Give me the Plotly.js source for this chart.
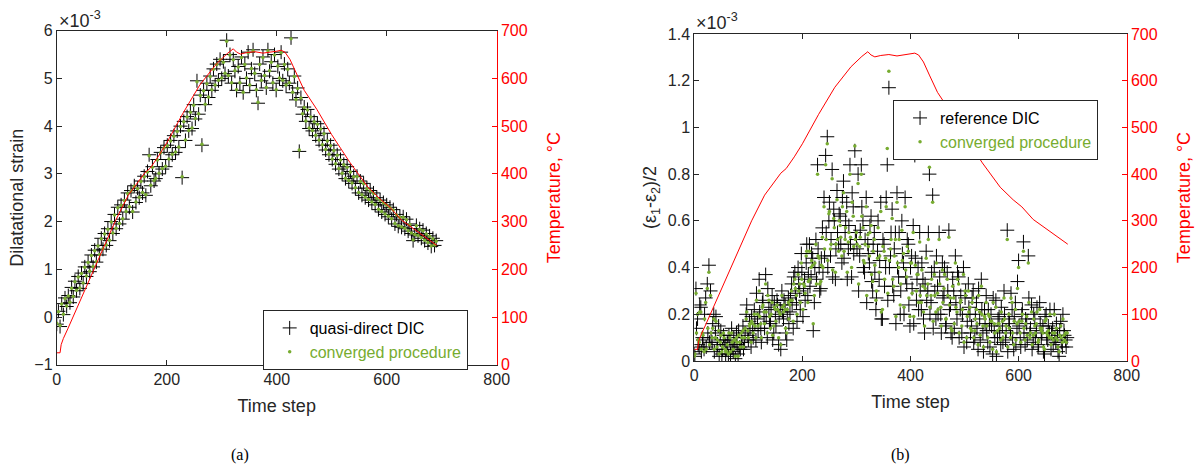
<!DOCTYPE html>
<html>
<head>
<meta charset="utf-8">
<script src="https://cdn.plot.ly/plotly-3.0.1.min.js"></script>
<style>html,body{margin:0;padding:0;background:#fff;}#chart{width:1200px;height:470px;}</style>
</head>
<body>
<div id="chart"></div>
<script>
// Time steps (sampled every 3 steps)
const timeStep = [0,3,6,9,12,15,18,21,24,27,30,33,36,39,42,45,48,51,54,57,60,63,66,69,72,75,78,81,84,87,90,93,96,99,102,105,108,111,114,117,120,123,126,129,132,135,138,141,144,147,150,153,156,159,162,165,168,171,174,177,180,183,186,189,192,195,198,201,204,207,210,213,216,219,222,225,228,231,234,237,240,243,246,249,252,255,258,261,264,267,270,273,276,279,282,285,288,291,294,297,300,303,306,309,312,315,318,321,324,327,330,333,336,339,342,345,348,351,354,357,360,363,366,369,372,375,378,381,384,387,390,393,396,399,402,405,408,411,414,417,420,423,426,429,432,435,438,441,444,447,450,453,456,459,462,465,468,471,474,477,480,483,486,489,492,495,498,501,504,507,510,513,516,519,522,525,528,531,534,537,540,543,546,549,552,555,558,561,564,567,570,573,576,579,582,585,588,591,594,597,600,603,606,609,612,615,618,621,624,627,630,633,636,639,642,645,648,651,654,657,660,663,666,669,672,675,678,681,684,687,690];
// Intermediate time steps used for panel (b)
const timeStepB = [1,4,7,10,13,16,19,22,25,28,31,34,37,40,43,46,49,52,55,58,61,64,67,70,73,76,79,82,85,88,91,94,97,100,103,106,109,112,115,118,121,124,127,130,133,136,139,142,145,148,151,154,157,160,163,166,169,172,175,178,181,184,187,190,193,196,199,202,205,208,211,214,217,220,223,226,229,232,235,238,241,244,247,250,253,256,259,262,265,268,271,274,277,280,283,286,289,292,295,298,301,304,307,310,313,316,319,322,325,328,331,334,337,340,343,346,349,352,355,358,361,364,367,370,373,376,379,382,385,388,391,394,397,400,403,406,409,412,415,418,421,424,427,430,433,436,439,442,445,448,451,454,457,460,463,466,469,472,475,478,481,484,487,490,493,496,499,502,505,508,511,514,517,520,523,526,529,532,535,538,541,544,547,550,553,556,559,562,565,568,571,574,577,580,583,586,589,592,595,598,601,604,607,610,613,616,619,622,625,628,631,634,637,640,643,646,649,652,655,658,661,664,667,670,673,676,679,682,685,688];

// (a) Dilatational strain, x10^-3
const quasiDirectDIC = [
-0.15,0.12,-0.2,0.28,0.05,0.4,0.22,0.45,0.3,0.62,
0.42,0.75,0.55,0.85,0.6,0.92,0.7,1.05,0.85,1.15,
0.95,1.3,1.05,1.4,1.15,1.5,1.3,1.65,1.42,1.75,
1.5,1.85,1.6,2.0,1.75,2.15,1.85,2.3,1.95,2.35,
2.05,2.45,2.2,2.6,2.3,2.65,2.2,2.75,2.4,2.7,
2.5,2.85,2.6,2.95,2.55,3.05,3.4,2.75,3.15,2.85,
2.9,3.3,3.0,3.45,3.1,3.55,3.15,3.6,3.3,3.7,
3.4,3.8,3.45,3.9,3.55,4.0,2.92,4.1,3.7,4.2,
3.9,4.3,3.95,4.45,4.15,4.95,4.25,4.65,3.6,4.75,
4.45,4.9,4.6,5.05,4.75,5.2,4.85,5.3,4.95,5.4,
5.0,5.35,5.1,5.8,5.05,5.5,4.9,5.4,5.15,4.75,
5.25,4.9,5.45,4.7,5.3,5.0,5.55,4.85,5.2,5.6,
5.1,4.75,4.48,5.3,4.95,5.45,5.05,4.8,5.6,5.15,
5.35,4.9,5.5,4.75,5.25,5.0,5.55,4.95,5.3,4.85,
5.2,4.9,5.85,4.7,5.05,4.55,4.8,3.47,4.6,4.25,
4.4,4.1,4.35,3.95,4.2,3.9,4.1,3.8,4.05,3.7,
3.95,3.6,3.85,3.5,3.7,3.4,3.6,3.3,3.5,3.2,
3.4,3.1,3.3,3.0,3.2,2.9,3.15,2.85,3.05,2.8,
2.95,2.7,2.95,2.6,2.85,2.55,2.8,2.5,2.7,2.45,
2.65,2.4,2.6,2.35,2.5,2.25,2.45,2.2,2.4,2.15,
2.35,2.1,2.3,2.05,2.25,1.95,2.15,1.9,2.1,1.88,
2.1,1.85,2.05,1.8,1.95,1.75,1.6,1.72,1.92,1.7,
1.85,1.65,1.82,1.6,1.75,1.55,1.7,1.48,1.65,1.5,
1.6];
const convergedA = [
-0.13,0.11,-0.18,0.27,0.06,0.39,0.23,0.44,0.31,0.6,
0.43,0.74,0.56,0.84,0.61,0.91,0.71,1.04,0.86,1.14,
0.96,1.29,1.06,1.39,1.16,1.49,1.31,1.64,1.43,1.74,
1.51,1.84,1.61,1.99,1.76,2.14,1.86,2.29,1.96,2.34,
2.06,2.44,2.21,2.59,2.31,2.64,2.21,2.74,2.41,2.69,
2.51,2.84,2.61,2.94,2.56,3.04,3.38,2.76,3.14,2.86,
2.91,3.29,3.01,3.44,3.11,3.54,3.16,3.59,3.31,3.69,
3.41,3.79,3.46,3.89,3.56,3.99,2.94,4.09,3.71,4.19,
3.91,4.29,3.96,4.44,4.16,4.93,4.26,4.64,3.62,4.74,
4.46,4.89,4.61,5.04,4.76,5.19,4.86,5.29,4.96,5.39,
5.01,5.34,5.11,5.78,5.06,5.49,4.91,5.39,5.16,4.76,
5.24,4.91,5.44,4.71,5.29,5.01,5.54,4.86,5.21,5.58,
5.11,4.76,4.5,5.29,4.96,5.44,5.06,4.81,5.58,5.16,
5.34,4.91,5.49,4.76,5.26,5.01,5.54,4.96,5.29,4.86,
5.19,4.91,5.83,4.71,5.04,4.56,4.79,3.5,4.59,4.26,
4.39,4.11,4.34,3.96,4.19,3.91,4.09,3.81,4.04,3.71,
3.94,3.61,3.84,3.51,3.69,3.41,3.59,3.31,3.49,3.21,
3.39,3.11,3.29,3.01,3.19,2.91,3.14,2.86,3.04,2.81,
2.94,2.71,2.94,2.61,2.84,2.56,2.79,2.51,2.69,2.46,
2.64,2.41,2.59,2.36,2.49,2.26,2.44,2.21,2.39,2.16,
2.34,2.11,2.29,2.06,2.24,1.96,2.14,1.91,2.09,1.89,
2.09,1.86,2.04,1.81,1.94,1.76,1.62,1.73,1.91,1.71,
1.84,1.66,1.81,1.61,1.74,1.56,1.69,1.49,1.64,1.51,
1.59];

// (b) (eps1-eps2)/2, x10^-3
const referenceDIC = [
0.03,0.31,0.18,0.06,0.23,0.1,0.05,0.27,0.33,0.41,
0.3,0.08,0.2,0.12,0.05,0.15,0.09,0.03,0.11,0.07,
0.05,0.02,0.09,0.14,0.04,0.07,0.12,0.03,0.06,0.1,
0.15,0.08,0.2,0.11,0.17,0.06,0.13,0.22,0.09,0.18,
0.35,0.14,0.25,0.19,0.37,0.1,0.23,0.16,0.28,0.12,
0.2,0.26,0.07,0.22,0.3,0.18,0.24,0.09,0.27,0.21,
0.33,0.14,0.38,0.25,0.4,0.3,0.46,0.19,0.35,0.42,
0.28,0.5,0.36,0.44,0.25,0.52,0.84,0.4,0.31,0.57,
0.7,0.88,0.96,0.6,0.45,0.82,0.65,0.35,0.73,0.5,
0.62,0.42,0.77,0.55,0.68,0.48,0.84,0.36,0.66,0.9,
0.52,0.8,0.45,0.84,0.6,0.38,0.7,0.5,0.42,0.62,
0.3,0.55,0.22,0.47,0.35,0.68,0.18,0.5,0.4,0.84,
1.17,0.45,0.65,0.28,0.55,0.72,0.36,0.2,0.6,0.42,
0.7,0.33,0.5,0.15,0.45,0.58,0.88,0.26,0.4,0.55,
0.22,0.35,0.12,0.47,0.3,0.8,0.25,0.71,0.4,0.18,
0.32,0.55,0.2,0.42,0.28,0.15,0.38,0.56,0.24,0.1,
0.3,0.45,0.18,0.36,0.22,0.12,0.4,0.27,0.08,0.33,
0.2,0.15,0.3,0.1,0.25,0.05,0.18,0.35,0.12,0.22,
0.28,0.08,0.16,0.2,0.03,0.13,0.26,0.1,0.19,0.07,
0.15,0.3,0.09,0.56,0.18,0.12,0.22,0.05,0.25,0.14,
0.43,0.1,0.2,0.51,0.07,0.16,0.45,0.12,0.24,0.08,
0.18,0.13,0.06,0.25,0.1,0.15,0.03,0.2,0.09,0.12,
0.05,0.14,0.22,0.08,0.11,0.02,0.17,0.06,0.13,0.09,
0.1];
const referenceDICB = [
0.02,0.14,0.07,0.24,0.04,0.09,0.2,0.06,0.12,0.08,
0.1,0.16,0.04,0.19,0.07,0.02,0.13,0.05,0.09,0.03,
0.08,0.11,0.03,0.06,0.1,0.01,0.07,0.13,0.05,0.08,
0.05,0.12,0.24,0.09,0.14,0.19,0.1,0.16,0.29,0.13,
0.21,0.08,0.26,0.14,0.19,0.31,0.17,0.22,0.09,0.25,
0.15,0.24,0.19,0.05,0.21,0.26,0.12,0.2,0.16,0.28,
0.24,0.36,0.29,0.17,0.33,0.22,0.38,0.31,0.26,0.5,
0.37,0.32,0.46,0.13,0.4,0.35,0.48,0.3,0.44,0.38,
0.45,0.55,0.4,0.68,0.52,0.36,0.6,0.48,0.55,0.63,
0.5,0.7,0.44,0.6,0.35,0.58,0.5,0.72,0.46,0.55,
0.48,0.3,0.56,0.66,0.4,0.52,0.25,0.46,0.58,0.34,
0.5,0.38,0.27,0.6,0.43,0.18,0.52,0.32,0.7,0.26,
0.4,0.55,0.32,0.48,0.16,0.4,0.55,0.3,0.46,0.2,
0.36,0.52,0.24,0.4,0.31,0.16,0.44,0.35,0.22,0.3,
0.42,0.18,0.33,0.26,0.55,0.2,0.38,0.14,0.3,0.45,
0.2,0.36,0.12,0.27,0.4,0.16,0.3,0.22,0.12,0.35,
0.14,0.25,0.38,0.1,0.28,0.2,0.06,0.3,0.17,0.23,
0.12,0.27,0.08,0.2,0.14,0.31,0.09,0.22,0.04,0.16,
0.13,0.22,0.06,0.15,0.27,0.1,0.02,0.18,0.12,0.23,
0.08,0.2,0.13,0.04,0.16,0.29,0.1,0.19,0.07,0.34,
0.15,0.06,0.22,0.12,0.18,0.09,0.27,0.14,0.05,0.2,
0.1,0.23,0.07,0.16,0.12,0.04,0.19,0.1,0.15,0.22,
0.12,0.07,0.1,0.16,0.04,0.13,0.08,0.2,0.11,0.06];
const convergedB = [
0.02,0.29,0.2,0.08,0.21,0.12,0.04,0.25,0.31,0.38,
0.28,0.1,0.18,0.1,0.06,0.13,0.08,0.04,0.12,0.05,
0.04,0.03,0.1,0.12,0.05,0.09,0.1,0.02,0.08,0.12,
0.13,0.1,0.18,0.13,0.15,0.08,0.16,0.2,0.1,0.2,
0.3,0.16,0.23,0.21,0.33,0.12,0.26,0.14,0.25,0.15,
0.22,0.24,0.1,0.2,0.28,0.21,0.22,0.12,0.25,0.24,
0.3,0.17,0.35,0.28,0.37,0.33,0.42,0.22,0.32,0.45,
0.25,0.47,0.4,0.41,0.28,0.5,0.8,0.44,0.34,0.53,
0.66,0.84,0.93,0.63,0.48,0.78,0.61,0.38,0.69,0.47,
0.58,0.45,0.72,0.52,0.64,0.51,0.8,0.4,0.62,0.92,
0.55,0.76,0.49,0.8,0.57,0.42,0.66,0.54,0.45,0.58,
0.34,0.52,0.26,0.44,0.38,0.64,0.22,0.47,0.44,0.91,
1.24,0.48,0.61,0.32,0.52,0.68,0.4,0.24,0.56,0.46,
0.66,0.36,0.47,0.19,0.42,0.55,0.9,0.3,0.37,0.51,
0.25,0.32,0.15,0.44,0.33,0.83,0.28,0.68,0.37,0.21,
0.29,0.52,0.23,0.39,0.31,0.18,0.35,0.53,0.27,0.13,
0.27,0.42,0.21,0.33,0.25,0.15,0.37,0.3,0.1,0.3,
0.23,0.13,0.27,0.13,0.22,0.07,0.21,0.32,0.15,0.19,
0.25,0.1,0.19,0.17,0.05,0.16,0.23,0.13,0.16,0.09,
0.17,0.27,0.12,0.52,0.2,0.1,0.25,0.07,0.22,0.16,
0.4,0.12,0.17,0.47,0.09,0.19,0.42,0.1,0.21,0.11,
0.15,0.16,0.08,0.22,0.13,0.12,0.05,0.18,0.11,0.1,
0.07,0.12,0.2,0.1,0.09,0.04,0.15,0.08,0.11,0.12,
0.12];
const convergedBB = [
0.03,0.12,0.09,0.21,0.05,0.11,0.18,0.05,0.14,0.07,
0.12,0.14,0.05,0.17,0.09,0.03,0.11,0.06,0.1,0.04,
0.07,0.12,0.04,0.08,0.09,0.02,0.08,0.11,0.06,0.1,
0.06,0.14,0.21,0.1,0.16,0.17,0.12,0.15,0.26,0.15,
0.19,0.1,0.24,0.16,0.21,0.28,0.19,0.2,0.11,0.23,
0.17,0.22,0.21,0.07,0.23,0.24,0.14,0.22,0.18,0.26,
0.26,0.33,0.31,0.2,0.3,0.25,0.35,0.33,0.29,0.47,
0.34,0.35,0.43,0.16,0.42,0.33,0.45,0.33,0.41,0.4,
0.48,0.52,0.43,0.64,0.5,0.39,0.57,0.5,0.52,0.6,
0.53,0.66,0.47,0.57,0.38,0.55,0.53,0.68,0.49,0.52,
0.5,0.33,0.53,0.62,0.43,0.5,0.28,0.49,0.55,0.37,
0.47,0.41,0.3,0.57,0.45,0.21,0.49,0.35,0.66,0.29,
0.43,0.52,0.35,0.45,0.19,0.42,0.52,0.33,0.43,0.23,
0.39,0.49,0.27,0.42,0.29,0.19,0.41,0.37,0.25,0.28,
0.39,0.21,0.31,0.28,0.52,0.23,0.35,0.17,0.28,0.42,
0.22,0.33,0.15,0.25,0.37,0.18,0.28,0.24,0.14,0.32,
0.16,0.23,0.35,0.12,0.26,0.22,0.08,0.28,0.19,0.21,
0.14,0.25,0.1,0.18,0.16,0.28,0.11,0.2,0.06,0.18,
0.15,0.2,0.08,0.17,0.25,0.12,0.04,0.16,0.14,0.21,
0.1,0.18,0.15,0.06,0.14,0.27,0.12,0.17,0.09,0.31,
0.17,0.08,0.2,0.14,0.16,0.11,0.25,0.12,0.07,0.18,
0.12,0.21,0.09,0.14,0.14,0.06,0.17,0.12,0.13,0.2,
0.1,0.09,0.12,0.14,0.06,0.11,0.1,0.18,0.09,0.08];

// Temperature, °C
const tempTime = [0,6,8,12,20,40,60,80,106,130,160,170,175,185,200,230,260,290,310,321,327,334,345,360,375,390,400,408,415,424,435,450,473,500,533,566,590,606,627,660,691];
const tempValues = [25,25,42,55,75,128,180,232,300,355,402,412,420,437,465,528,586,630,652,662,655,651,654,656,653,655,657,659,655,640,612,575,535,482,424,372,345,330,303,275,250];

const FONT = 'Liberation Sans, Arial, sans-serif';
const AX = '#262626';
const GREEN = '#77ac30';
const RED = '#ff0000';

function crossTrace(x, y, name, xa, ya, leg) {
  return {x, y, name, type:'scatter', mode:'markers', xaxis:xa, yaxis:ya, legend:leg,
    marker:{symbol:'cross-thin', size:10, color:'#000', line:{color:'#000', width:1}}};
}
function dotTrace(x, y, name, xa, ya, leg) {
  return {x, y, name:'<span style="color:'+GREEN+'">'+name+'</span>', type:'scatter', mode:'markers', xaxis:xa, yaxis:ya, legend:leg,
    marker:{symbol:'circle', size:3.5, color:GREEN}};
}
function tempTrace(xa, ya) {
  return {x:tempTime, y:tempValues, type:'scatter', mode:'lines', xaxis:xa, yaxis:ya, showlegend:false,
    line:{color:RED, width:1}};
}

const data = [
  crossTrace(timeStep, quasiDirectDIC, 'quasi-direct DIC', 'x', 'y', 'legend'),
  dotTrace(timeStep, convergedA, 'converged procedure', 'x', 'y', 'legend'),
  tempTrace('x', 'y2'),
  crossTrace(timeStep.concat(timeStepB), referenceDIC.concat(referenceDICB), 'reference DIC', 'x2', 'y3', 'legend2'),
  dotTrace(timeStep.concat(timeStepB), convergedB.concat(convergedBB), 'converged procedure', 'x2', 'y3', 'legend2'),
  tempTrace('x2', 'y4')
];

const tickFont = {family:FONT, size:16, color:AX};
const titleFont = {family:FONT, size:18, color:AX};
function xAxis(domain, anchor) {
  return {domain, anchor, range:[0,800], dtick:200, tick0:0, showgrid:false, zeroline:false,
    showline:true, linecolor:AX, linewidth:1, mirror:'ticks', ticks:'inside', ticklen:5, tickcolor:AX,
    tickfont:tickFont, title:{text:'Time step', font:titleFont, standoff:12}};
}
function yLeft(domain, anchor, range, dtick, title) {
  return {domain, anchor, range, dtick, showgrid:false, zeroline:false,
    showline:true, linecolor:AX, linewidth:1, ticks:'inside', ticklen:5, tickcolor:AX,
    tickfont:tickFont, title:{text:title, font:titleFont, standoff:6}};
}
function yRight(overlay, anchor) {
  return {overlaying:overlay, anchor, side:'right', range:[0,700], dtick:100, showgrid:false, zeroline:false,
    showline:true, linecolor:RED, linewidth:1, ticks:'inside', ticklen:5, tickcolor:RED,
    tickfont:{family:FONT, size:16, color:RED},
    title:{text:'Temperature, °C', font:{family:FONT, size:18, color:RED}, standoff:20}};
}

const layout = {
  width:1200, height:470,
  margin:{l:0, r:0, t:0, b:0},
  paper_bgcolor:'#fff', plot_bgcolor:'#fff',
  font:{family:FONT, color:AX},
  xaxis: xAxis([0.0473, 0.4139], 'y'),
  yaxis: yLeft([0.2240, 0.9347], 'x', [-1,6], 1, 'Dilatational strain'),
  yaxis2: yRight('y', 'x'),
  xaxis2: xAxis([0.5786, 0.9389], 'y3'),
  yaxis3: yLeft([0.2319, 0.9277], 'x2', [0,1.4], 0.2, '(ε<sub>1</sub>-ε<sub>2</sub>)/2'),
  yaxis4: yRight('y3', 'x2'),
  legend:{x:0.2189, y:0.3404, xanchor:'left', yanchor:'top', bgcolor:'#fff', bordercolor:AX, borderwidth:1,
    font:{family:FONT, size:16, color:'#000'}, tracegroupgap:0, indentation:6},
  legend2:{x:0.7442, y:0.7872, xanchor:'left', yanchor:'top', bgcolor:'#fff', bordercolor:AX, borderwidth:1,
    font:{family:FONT, size:16, color:'#000'}, tracegroupgap:0, indentation:6},
  annotations:[
    {xref:'paper', yref:'paper', x:0.0473, y:(470-19)/470, xanchor:'left', yanchor:'middle', showarrow:false,
      text:'×10<sup>-3</sup>', font:{family:FONT, size:18, color:AX}},
    {xref:'paper', yref:'paper', x:0.5786, y:(470-22)/470, xanchor:'left', yanchor:'middle', showarrow:false,
      text:'×10<sup>-3</sup>', font:{family:FONT, size:18, color:AX}},
    {xref:'paper', yref:'paper', x:240/1200, y:(470-455)/470, xanchor:'center', yanchor:'middle', showarrow:false,
      text:'(a)', font:{family:'Liberation Serif, Times New Roman, serif', size:16, color:'#000'}},
    {xref:'paper', yref:'paper', x:900/1200, y:(470-455)/470, xanchor:'center', yanchor:'middle', showarrow:false,
      text:'(b)', font:{family:'Liberation Serif, Times New Roman, serif', size:16, color:'#000'}}
  ]
};

Plotly.newPlot('chart', data, layout, {staticPlot:true, displayModeBar:false});
</script>
</body>
</html>
